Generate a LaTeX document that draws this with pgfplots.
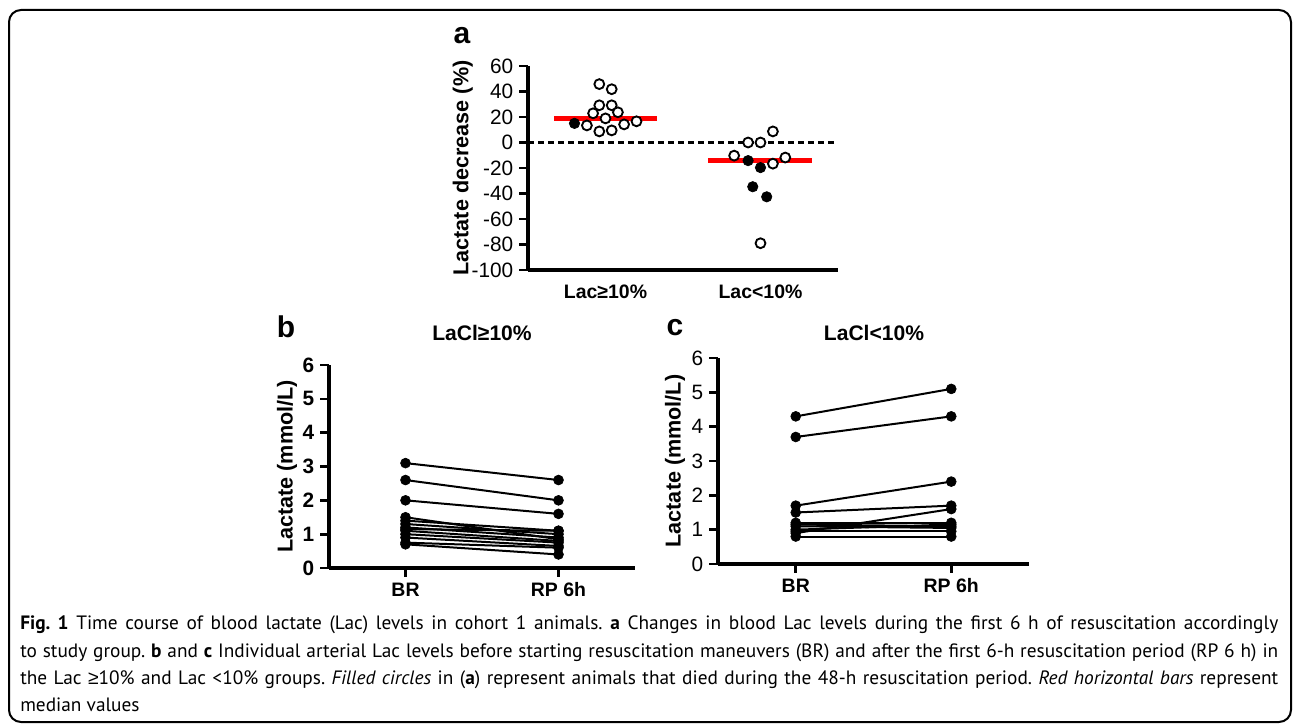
\documentclass[border=0pt]{standalone}
\usepackage{pgfplots}
\pgfplotsset{compat=1.18}
\usepackage{fontspec}
\setmainfont{Liberation Sans}
\newfontfamily\capfont{PT Sans}

\pgfplotsset{
  prism/.style={
    scale only axis, axis x line=bottom, axis y line=left,
    line width=2.4pt,
    axis line style={line width=2.4pt,-},
    every outer x axis line/.append style={line width=2.4pt},
    every outer y axis line/.append style={line width=2.4pt},
    major tick style={black,line width=2pt},
    tick align=outside, major tick length=6.5pt,
    enlargelimits=false, clip=false,
    /pgf/number format/assume math mode=true,
    label style={font=\fontsize{16.2}{18}\selectfont\bfseries},
    tick label style={font=\fontsize{15.6}{17}\selectfont},
    x tick label style={font=\fontsize{14.6}{16}\selectfont\bfseries},
  },
  open/.style={only marks, mark=*, mark size=3.7pt, mark options={fill=white,draw=black,line width=1.4pt}},
  shut/.style={only marks, mark=*, mark size=3.9pt, mark options={fill=black,draw=black,line width=0.5pt}},
  pair/.style={black, line width=1.5pt, mark=*, mark size=3.7pt, mark options={fill=black,line width=0.5pt}},
}

\begin{document}
\begin{tikzpicture}[x=0.75pt,y=0.75pt]
\useasboundingbox (0,0) rectangle (1296,726);
\draw[line width=1.5pt, rounded corners=9pt] (9,4) rectangle (1291,716);

% ---- panel a
\begin{axis}[prism, at={(396pt,342pt)}, anchor=south west,
  width=232.5pt, height=153pt,
  xmin=0.5, xmax=2.5, ymin=-100, ymax=60,
  ytick={-100,-80,...,60}, xtick={1,2},
  xticklabels={Lac≥10\%, Lac<10\%},
  xtick style={draw=none},
  ylabel={Lactate decrease (\%)},
  ylabel style={at={(axis description cs:-0.21,0.5)}, anchor=center}]
\addplot[black, line width=1.6pt, dash pattern=on 4.5pt off 3pt] coordinates {(0.5,0) (2.5,0)};
\addplot[red, line width=4pt] coordinates {(0.67,18.9) (1.33,18.9)};
\addplot[red, line width=4pt] coordinates {(1.66,-14.2) (2.33,-14.2)};
% Lac >= 10%
\addplot[open] coordinates {
  (0.96,45.8) (1.04,41.8) (0.96,29.2) (1.04,29.2) (0.92,22.9) (1.08,23.7)
  (1.00,18.9) (0.88,13.4) (1.12,14.2) (1.20,16.6) (0.96,8.7) (1.04,9.5)};
\addplot[shut] coordinates {(0.80,15.0)};
% Lac < 10%
\addplot[open] coordinates {
  (2.08,8.7) (1.92,0) (2.00,0) (1.83,-10.3) (2.08,-16.6) (2.16,-11.8) (2.00,-79)};
\addplot[shut] coordinates {(1.92,-14.2) (2.00,-19.7) (1.95,-34.7) (2.04,-42.6)};
\end{axis}

% ---- panel b
\begin{axis}[prism, at={(246.75pt,118.5pt)}, anchor=south west,
  width=229.5pt, height=152.25pt,
  xmin=-0.5, xmax=1.5, ymin=0, ymax=6,
  ytick={0,...,6}, xtick={0,1}, xticklabels={BR, RP 6h},
  y tick label style={font=\fontsize{15.6}{17}\selectfont\bfseries},
  ylabel={Lactate (mmol/L)},
  ylabel style={at={(axis description cs:-0.137,0.5)}, anchor=center}]
\addplot[pair] coordinates {(0,3.1) (1,2.6)};
\addplot[pair] coordinates {(0,2.6) (1,2.0)};
\addplot[pair] coordinates {(0,2.0) (1,1.6)};
\addplot[pair] coordinates {(0,1.5) (1,0.85)};
\addplot[pair] coordinates {(0,1.4) (1,1.1)};
\addplot[pair] coordinates {(0,1.3) (1,1.0)};
\addplot[pair] coordinates {(0,1.2) (1,0.9)};
\addplot[pair] coordinates {(0,1.15) (1,1.1)};
\addplot[pair] coordinates {(0,1.1) (1,0.8)};
\addplot[pair] coordinates {(0,1.0) (1,0.75)};
\addplot[pair] coordinates {(0,0.9) (1,0.65)};
\addplot[pair] coordinates {(0,0.75) (1,0.6)};
\addplot[pair] coordinates {(0,0.7) (1,0.4)};
\end{axis}

% ---- panel c
\begin{axis}[prism, at={(538.5pt,121.5pt)}, anchor=south west,
  width=233.25pt, height=154.5pt,
  xmin=-0.5, xmax=1.5, ymin=0, ymax=6,
  ytick={0,...,6}, xtick={0,1}, xticklabels={BR, RP 6h},
  ylabel={Lactate (mmol/L)},
  ylabel style={at={(axis description cs:-0.138,0.5)}, anchor=center}]
\addplot[pair] coordinates {(0,4.3) (1,5.1)};
\addplot[pair] coordinates {(0,3.7) (1,4.3)};
\addplot[pair] coordinates {(0,1.7) (1,2.4)};
\addplot[pair] coordinates {(0,1.5) (1,1.7)};
\addplot[pair] coordinates {(0,0.9) (1,1.6)};
\addplot[pair] coordinates {(0,1.2) (1,1.2)};
\addplot[pair] coordinates {(0,1.15) (1,1.1)};
\addplot[pair] coordinates {(0,1.1) (1,1.05)};
\addplot[pair] coordinates {(0,1.0) (1,1.15)};
\addplot[pair] coordinates {(0,0.95) (1,0.95)};
\addplot[pair] coordinates {(0,0.8) (1,0.8)};
\end{axis}

% panel letters and titles
\node[font=\fontsize{22.5}{24}\selectfont\bfseries] at (462,690) {a};
\node[font=\fontsize{22.5}{24}\selectfont\bfseries] at (286,399) {b};
\node[font=\fontsize{22.5}{24}\selectfont\bfseries] at (675,398) {c};
\node[font=\fontsize{15.8}{18}\selectfont\bfseries] at (482,393) {LaCl≥10\%};
\node[font=\fontsize{15.8}{18}\selectfont\bfseries] at (874,393) {LaCl<10\%};

% caption
\frenchspacing
\begin{scope}[every node/.style={anchor=base west, inner sep=0pt, font=\capfont\fontsize{14.5}{16}\selectfont}]
\node at (20,97) {\makebox[943.5pt][s]{\textbf{Fig. 1} Time course of blood lactate (Lac) levels in cohort 1 animals. \textbf{a} Changes in blood Lac levels during the first 6 h of resuscitation accordingly}};
\node at (20,69) {\makebox[943.5pt][s]{to study group. \textbf{b} and \textbf{c} Individual arterial Lac levels before starting resuscitation maneuvers (BR) and after the first 6-h resuscitation period (RP 6 h) in}};
\node at (20,42) {\makebox[943.5pt][s]{the Lac {\rmfamily ≥}10\% and Lac <10\% groups. \textit{Filled circles} in (\textbf{a}) represent animals that died during the 48-h resuscitation period. \textit{Red horizontal bars} represent}};
\node at (20,15) {median values};
\end{scope}
\end{tikzpicture}
\end{document}
